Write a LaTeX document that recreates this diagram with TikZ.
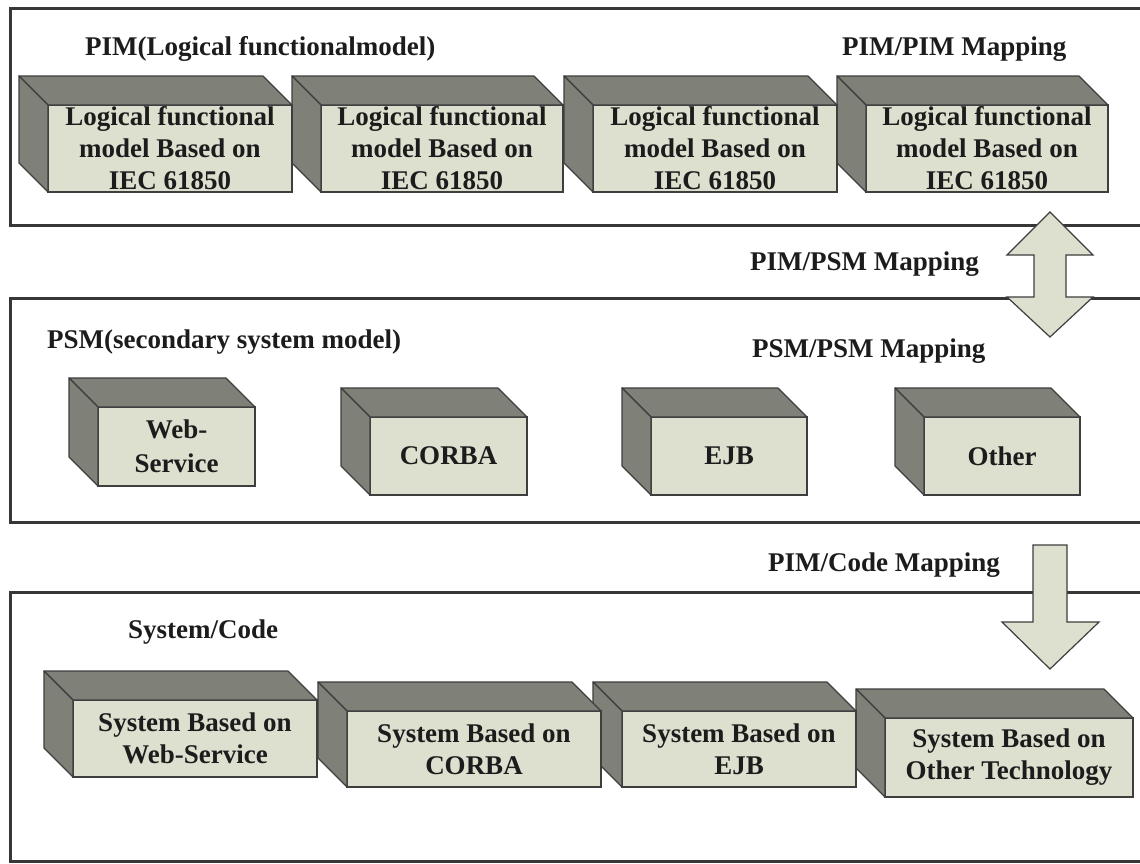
\documentclass[tikz,border=0pt]{standalone}
\usepackage{fontspec}
\setmainfont{Liberation Serif}
\definecolor{facefront}{RGB}{221,223,207}
\definecolor{facedark}{RGB}{127,128,120}
\definecolor{edgegray}{RGB}{62,62,62}
\definecolor{framegray}{RGB}{55,55,55}
\definecolor{ink}{RGB}{28,28,28}
\tikzset{
  panel/.style={draw=framegray, line width=3pt},
  frontface/.style={draw=edgegray, fill=facefront, line width=1.2pt, inner sep=0pt,
    outer sep=0pt, align=center, text=ink,
    font=\fontsize{27}{32}\selectfont\bfseries},
  darkface/.style={draw=edgegray, fill=facedark, line width=1.2pt, line join=round},
  title/.style={font=\fontsize{27}{32}\selectfont\bfseries, text=ink,
    anchor=base west, inner sep=0pt},
  blockarrow/.style={draw=edgegray, fill=facefront, line width=1.2pt, line join=miter}
}
% #1 name, #2..#5 front face corners (left, top, right, bottom), #6 label
\newcommand\cubebox[6]{%
  \node[frontface, minimum width={#4-#2}, minimum height={#5-#3}]
    (#1) at ({(#2+#4)/2},{(#3+#5)/2}) {#6};
  \filldraw[darkface] (#1.north west) -- ([shift={(-29,-29)}]#1.north west)
    -- ([shift={(-29,-29)}]#1.north east) -- (#1.north east) -- cycle;
  \filldraw[darkface] (#1.north west) -- ([shift={(-29,-29)}]#1.north west)
    -- ([shift={(-29,-29)}]#1.south west) -- (#1.south west) -- cycle;
}
\begin{document}
\begin{tikzpicture}[x=1pt, y=-1pt]
\useasboundingbox (0,0) rectangle (1140,863);
\clip (0,0) rectangle (1140,863);
\fill[white] (0,0) rectangle (1140,863);

% three layers
\draw[panel] (1160,8) -- (10,8) -- (10,225) -- (1160,225);
\draw[panel] (1160,298) -- (10,298) -- (10,522) -- (1160,522);
\draw[panel] (1160,592) -- (10,592) -- (10,861) -- (1160,861);

% layer titles and mapping labels
\node[title] (pimtitle) at (85,55) {PIM(Logical functionalmodel)};
\node[title] (pimpim) at (842,55) {PIM/PIM Mapping};
\node[title] (pimpsm) at (750,270) {PIM/PSM Mapping};
\node[title] (psmtitle) at (47,348) {PSM(secondary system model)};
\node[title] (psmpsm) at (752,357) {PSM/PSM Mapping};
\node[title] (pimcode) at (768,571) {PIM/Code Mapping};
\node[title] (systitle) at (128,638) {System/Code};

% PIM layer
\cubebox{lf4}{866}{105}{1108}{192}{Logical functional\\model Based on\\IEC 61850}
\cubebox{lf3}{593}{105}{837}{192}{Logical functional\\model Based on\\IEC 61850}
\cubebox{lf2}{321}{105}{563}{192}{Logical functional\\model Based on\\IEC 61850}
\cubebox{lf1}{48}{105}{292}{192}{Logical functional\\model Based on\\IEC 61850}

% PSM layer
\cubebox{psmws}{98}{407}{255}{486}{Web-\\[2pt]Service}
\cubebox{psmcorba}{370}{417}{527}{495}{CORBA}
\cubebox{psmejb}{651}{417}{807}{495}{EJB}
\cubebox{psmother}{924}{417}{1080}{495}{Other}

% System/Code layer
\cubebox{sysother}{885}{718}{1133}{797}{System Based on\\Other Technology}
\cubebox{sysejb}{622}{711}{856}{787}{System Based on\\EJB}
\cubebox{syscorba}{347}{711}{601}{787}{System Based on\\CORBA}
\cubebox{sysws}{73}{700}{317}{777}{System Based on\\Web-Service}

% PIM <-> PSM block arrow
\filldraw[blockarrow] (1050,212) -- (1093,255) -- (1066,255) -- (1066,297)
  -- (1093,297) -- (1050,337) -- (1007,297) -- (1034,297) -- (1034,255)
  -- (1007,255) -- cycle;

% PSM -> code block arrow
\filldraw[blockarrow] (1033,545) -- (1067,545) -- (1067,622) -- (1099,622)
  -- (1050,669) -- (1002,622) -- (1033,622) -- cycle;
\end{tikzpicture}
\end{document}
